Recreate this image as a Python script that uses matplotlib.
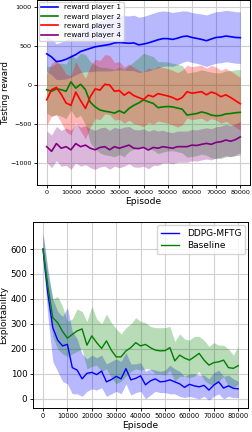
import numpy as np
import matplotlib
matplotlib.use("Agg")
import matplotlib.pyplot as plt

# ---- top panel: testing reward of the 4 players ----
episodes_top = list(range(0, 80001, 2000))

p1_mean = [400, 360, 300, 310, 330, 360, 390, 430, 450, 470, 490, 500, 510, 520, 540, 545, 540, 535, 540, 515, 525,
           540, 560, 580, 595, 595, 585, 600, 620, 628, 610, 598, 585, 568, 590, 610, 615, 628, 620, 610, 607]
p1_std = [220, 230, 230, 240, 250, 260, 260, 270, 280, 300, 310, 320, 330, 340, 350, 350, 350, 350, 355, 355, 355,
          360, 360, 360, 355, 350, 345, 340, 330, 320, 320, 320, 325, 330, 330, 330, 330, 330, 330, 330, 330]

p2_mean = [-60, -80, -50, -60, -80, 40, -40, 10, -60, -220, -280, -320, -335, -345, -360, -330, -360, -300, -260, -230, -190,
           -215, -235, -290, -280, -275, -280, -295, -310, -385, -375, -365, -345, -360, -385, -395, -390, -370, -365, -355, -350]
p2_std = [300, 320, 330, 340, 350, 360, 380, 400, 450, 520, 540, 550, 560, 560, 560, 560, 560, 550, 560, 580, 600,
          600, 600, 590, 580, 570, 560, 560, 560, 540, 540, 540, 540, 540, 550, 550, 550, 550, 550, 550, 550]

p3_mean = [-190, -60, -30, -120, -230, -260, -90, -200, -300, -150, -50, -65, 10, 0, -80, -70, -130, -90, -135, -160, -185,
           -130, -150, -110, -125, -140, -160, -190, -160, -85, -105, -95, -85, -125, -90, -110, -150, -125, -160, -200, -240]
p3_std = [330, 340, 350, 360, 370, 380, 390, 390, 390, 390, 380, 380, 380, 380, 370, 370, 360, 360, 360, 350, 350,
          350, 350, 350, 350, 350, 350, 350, 350, 340, 340, 340, 340, 340, 340, 340, 340, 340, 340, 340, 340]

p4_mean = [-790, -850, -750, -810, -790, -830, -750, -790, -770, -810, -830, -800, -790, -830, -790, -810, -790, -770, -810, -815, -800,
           -833, -800, -810, -790, -800, -810, -790, -790, -790, -770, -775, -760, -748, -760, -735, -727, -705, -720, -700, -665]
p4_std = [200, 210, 220, 230, 240, 250, 250, 250, 250, 250, 250, 250, 250, 250, 250, 250, 250, 240, 240, 240, 240,
          240, 230, 220, 210, 200, 200, 200, 200, 200, 200, 200, 200, 200, 200, 200, 200, 200, 200, 200, 200]

players = [("reward player 1", p1_mean, p1_std, "blue"),
           ("reward player 2", p2_mean, p2_std, "green"),
           ("reward player 3", p3_mean, p3_std, "red"),
           ("reward player 4", p4_mean, p4_std, "purple")]

# ---- bottom panel: exploitability ----
episodes_bot = list(range(0, 80001, 2000))

ddpg_mean = [600, 420, 285, 235, 212, 218, 125, 115, 80, 102, 106, 97, 111, 68, 77, 90, 80, 121, 76, 82, 92,
             56, 72, 80, 68, 70, 76, 68, 60, 46, 58, 52, 48, 54, 35, 55, 68, 43, 52, 42, 40]
ddpg_hi = [665, 520, 400, 350, 330, 365, 270, 240, 180, 160, 175, 165, 175, 140, 150, 160, 150, 185, 140, 140, 145,
           110, 120, 115, 110, 115, 135, 120, 110, 90, 100, 100, 95, 95, 80, 105, 115, 90, 95, 80, 70]
ddpg_lo = [560, 330, 150, 110, 70, 60, 20, 20, 10, 30, 40, 35, 45, 10, 20, 30, 20, 60, 15, 25, 30,
           0, 15, 30, 25, 25, 20, 20, 10, 5, 10, 5, 0, 10, -5, 10, 20, 0, 10, 5, 5]

base_mean = [600, 450, 325, 305, 270, 243, 258, 272, 280, 215, 252, 225, 202, 232, 195, 168, 168, 192, 205, 225, 212,
             218, 205, 195, 192, 193, 205, 152, 175, 163, 155, 168, 182, 155, 135, 145, 148, 155, 125, 122, 133]
base_hi = [660, 500, 400, 410, 370, 310, 320, 360, 350, 310, 370, 320, 300, 340, 305, 280, 260, 285, 300, 325, 310,
           305, 290, 285, 285, 285, 290, 230, 260, 240, 235, 250, 250, 235, 210, 225, 215, 215, 200, 175, 210]
base_lo = [540, 400, 250, 200, 180, 170, 180, 190, 200, 120, 130, 135, 110, 120, 85, 60, 70, 90, 110, 120, 115,
           120, 120, 100, 100, 95, 115, 70, 90, 90, 85, 90, 110, 75, 60, 55, 70, 90, 50, 45, 60]

fig = plt.figure(figsize=(2.52, 4.32), dpi=100)
ax1 = fig.add_axes([0.147, 0.572, 0.845, 0.428])
ax2 = fig.add_axes([0.131, 0.056, 0.853, 0.430])

# top
x = np.array(episodes_top)
for name, m, s, c in players:
    m = np.array(m); s = np.array(s)
    ax1.fill_between(x, m - s, m + s, color=c, alpha=0.28, linewidth=0)
for name, m, s, c in players:
    ax1.plot(x, m, color=c, linewidth=1.2, label=name)
ax1.set_xlim(-4000, 84000)
ax1.set_ylim(-1280, 1090)
ax1.set_xticks(range(0, 80001, 10000))
ax1.set_yticks([-1000, -500, 0, 500, 1000])
ax1.tick_params(labelsize=4.6, length=2.5, width=0.6, pad=1.5)
ax1.grid(True, color="#d0d0d0", linewidth=0.8)
ax1.set_axisbelow(True)
ax1.set_xlabel("Episode", fontsize=6.6, labelpad=1)
ax1.set_ylabel("Testing reward", fontsize=6.2)
ax1.yaxis.set_label_coords(-0.128, 0.5)
ax1.legend(loc="upper left", fontsize=5.2, handlelength=2.35, borderpad=0.35, labelspacing=0.45,
           borderaxespad=0.25, framealpha=0.8)
for sp in ax1.spines.values():
    sp.set_linewidth(0.7)

# bottom
xb = np.array(episodes_bot)
ax2.fill_between(xb, ddpg_lo, ddpg_hi, color="blue", alpha=0.28, linewidth=0)
ax2.fill_between(xb, base_lo, base_hi, color="green", alpha=0.28, linewidth=0)
ax2.plot(xb, ddpg_mean, color="blue", linewidth=1.0, label="DDPG-MFTG")
ax2.plot(xb, base_mean, color="green", linewidth=1.0, label="Baseline")
ax2.set_xlim(-4100, 84000)
ax2.set_ylim(-36, 708)
ax2.set_xticks(range(0, 80001, 10000))
ax2.set_yticks(range(0, 601, 100))
ax2.tick_params(axis="x", labelsize=4.8, length=2.5, width=0.6, pad=1.5)
ax2.tick_params(axis="y", labelsize=6.3, length=2.5, width=0.6, pad=1.5)
ax2.grid(True, color="#d0d0d0", linewidth=0.8)
ax2.set_axisbelow(True)
ax2.set_xlabel("Episode", fontsize=6.6, labelpad=1)
ax2.set_ylabel("Exploitability", fontsize=6.4)
ax2.yaxis.set_label_coords(-0.118, 0.5)
ax2.legend(loc="upper right", fontsize=6.5, borderpad=0.45, labelspacing=0.4, borderaxespad=0.3)
for sp in ax2.spines.values():
    sp.set_linewidth(0.7)

fig.savefig("out.png", dpi=100)
